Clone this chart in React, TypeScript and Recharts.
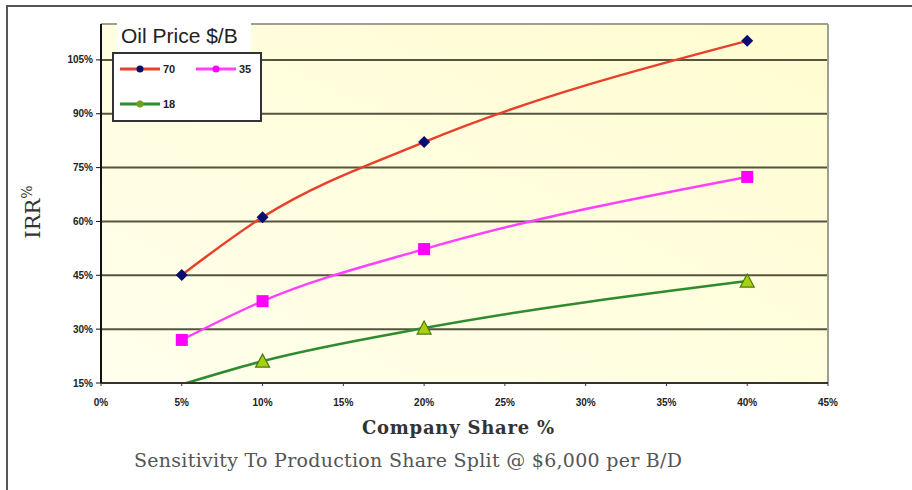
import { LineChart, Line, XAxis, YAxis, CartesianGrid, ReferenceLine } from 'recharts'

const shares = [5, 10, 20, 40]
const irr70 = [45.1, 61.2, 82.1, 110.3]
const irr35 = [27.0, 37.8, 52.3, 72.4]
const irr18 = [14.6, 21.1, 30.3, 43.4]
const xTicks = [0, 5, 10, 15, 20, 25, 30, 35, 40, 45]
const yTicks = [15, 30, 45, 60, 75, 90, 105]
const prices = ['70', '35', '18']

const data = shares.map((s, i) => ({ share: s, p70: irr70[i], p35: irr35[i], p18: irr18[i] }))

const tickFont = { fontFamily: 'Liberation Sans, Arial, sans-serif', fontSize: 10, fontWeight: 700, fill: '#222' }

const Diamond = (p: any) => {
  const { cx, cy } = p
  if (cx == null || cy == null) return <g key={p.key} />
  return <path key={p.key} d={`M${cx},${cy - 6}L${cx + 6},${cy}L${cx},${cy + 6}L${cx - 6},${cy}Z`} fill="#0B0B70" />
}

const Square = (p: any) => {
  const { cx, cy } = p
  if (cx == null || cy == null) return <g key={p.key} />
  return <rect key={p.key} x={cx - 6} y={cy - 6} width={12} height={12} fill="#FF00FF" />
}

const Triangle = (p: any) => {
  const { cx, cy, value } = p
  const v = Array.isArray(value) ? value[1] : value
  if (cx == null || cy == null || v < 15) return <g key={p.key} />
  return (
    <path key={p.key} d={`M${cx},${cy - 7}L${cx + 7},${cy + 6}L${cx - 7},${cy + 6}Z`}
      fill="#A8D010" stroke="#4A7A10" strokeWidth={1.2} />
  )
}

const YTitle = (props: any) => {
  const vb = props.viewBox
  const cx = vb.x - 8
  const cy = 212
  return (
    <text transform={`rotate(-90 ${cx} ${cy})`} x={cx} y={cy + 7} textAnchor="middle"
      style={{ fontFamily: 'DejaVu Serif, serif', fontSize: 21, fill: '#333' }}>
      IRR<tspan fontSize={14} dy={-8}>%</tspan>
    </text>
  )
}

const XTitles = (props: any) => {
  const vb = props.viewBox
  return (
    <g>
      <text x={vb.x + 357} y={434} textAnchor="middle" textLength={192}
        style={{ fontFamily: 'DejaVu Serif, serif', fontSize: 18, fontWeight: 700, fill: '#333' }}>
        Company Share %
      </text>
      <text x={vb.x + 307} y={467} textAnchor="middle" textLength={548}
        style={{ fontFamily: 'DejaVu Serif, serif', fontSize: 19, fill: '#555' }}>
        Sensitivity To Production Share Split @ $6,000 per B/D
      </text>
    </g>
  )
}

const legendItems = [
  { name: prices[0], line: '#E8402A', mark: '#0B0B70', left: 120, top: 61 },
  { name: prices[1], line: '#FF40FF', mark: '#FF00FF', left: 196, top: 61 },
  { name: prices[2], line: '#2E8B2E', mark: '#6FA020', left: 120, top: 96 },
]

export default function App() {
  return (
    <div style={{ position: 'absolute', left: 0, top: 0, width: 912, height: 490, background: '#fff' }}>
      <div style={{ position: 'absolute', left: 6, top: 5, width: 906, height: 485, borderTop: '2px solid #555', borderLeft: '2px solid #555' }} />
      <div style={{ position: 'absolute', left: 0, top: 0 }}>
        <LineChart width={912} height={490} data={data} margin={{ top: 24, right: 84, left: 41, bottom: 77 }}>
          <defs>
            <linearGradient id="plotBg" x1="0" y1="1" x2="1" y2="0">
              <stop offset="0%" stopColor="#FFFFEC" />
              <stop offset="100%" stopColor="#FFFCD0" />
            </linearGradient>
          </defs>
          <CartesianGrid vertical={false} horizontalValues={yTicks} stroke="#55553F" strokeWidth={2} fill="url(#plotBg)" fillOpacity={1} />
          <ReferenceLine y={115} stroke="#A0A090" strokeWidth={2} />
          <ReferenceLine x={45} stroke="#A0A090" strokeWidth={2} />
          <XAxis dataKey="share" type="number" domain={[0, 45]} ticks={xTicks} interval={0}
            tickFormatter={(v) => `${v}%`} height={30} tickSize={3} tickMargin={13}
            axisLine={{ stroke: '#333', strokeWidth: 2 }} tickLine={{ stroke: '#333' }}
            tick={tickFont} label={<XTitles />} />
          <YAxis type="number" domain={[15, 115]} ticks={yTicks} interval={0} allowDataOverflow
            tickFormatter={(v) => `${v}%`} width={60} tickSize={5} tickMargin={3}
            axisLine={{ stroke: '#111', strokeWidth: 2 }} tickLine={{ stroke: '#111' }}
            tick={tickFont} label={<YTitle />} />
          <Line type="monotone" dataKey="p70" stroke="#E8402A" strokeWidth={2.5} dot={<Diamond />} isAnimationActive={false} />
          <Line type="monotone" dataKey="p35" stroke="#FF40FF" strokeWidth={2.5} dot={<Square />} isAnimationActive={false} />
          <Line type="monotone" dataKey="p18" stroke="#2E8B2E" strokeWidth={2.5} dot={<Triangle />} isAnimationActive={false} />
        </LineChart>
      </div>
      <div style={{ position: 'absolute', left: 117, top: 20, width: 134, height: 32, background: '#fff',
        fontFamily: 'Liberation Sans Narrow, Arial Narrow, Liberation Sans, sans-serif', fontSize: 21, color: '#222',
        lineHeight: '32px', paddingLeft: 4, boxSizing: 'border-box' }}>
        Oil Price $/B
      </div>
      <div style={{ position: 'absolute', left: 112, top: 52, width: 150, height: 70, background: '#fff',
        border: '2px solid #333', boxSizing: 'border-box' }} />
      {legendItems.map((it) => (
        <div key={it.name} style={{ position: 'absolute', left: it.left, top: it.top, height: 16, display: 'flex', alignItems: 'center' }}>
          <svg width={40} height={16}>
            <line x1={0} y1={8} x2={40} y2={8} stroke={it.line} strokeWidth={3} />
            <circle cx={20} cy={8} r={3.5} fill={it.mark} />
          </svg>
          <span style={{ marginLeft: 3, fontFamily: 'Liberation Sans, Arial, sans-serif', fontSize: 11, fontWeight: 700, color: '#222' }}>{it.name}</span>
        </div>
      ))}
    </div>
  )
}
